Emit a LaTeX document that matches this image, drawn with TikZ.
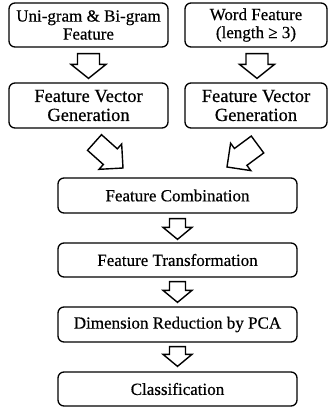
\documentclass[tikz,border=0pt]{standalone}
\usepackage{fontspec}
\setmainfont{Liberation Serif}[FakeBold=0.5]
\usetikzlibrary{calc}

% hollow block arrow from tail #1 to tip #2;
% #3 half shaft width, #4 half head width, #5 head length
\newcommand\fatarrow[5]{%
  \draw[blockarrow]
    ($#1!#3!90:#2$) --
    ($($#2!#5!#1$)!#3!90:#2$) --
    ($($#2!#5!#1$)!#4!90:#2$) --
    #2 --
    ($($#2!#5!#1$)!#4!-90:#2$) --
    ($($#2!#5!#1$)!#3!-90:#2$) --
    ($#1!#3!-90:#2$) -- cycle;}

\tikzset{
  box/.style={draw=black, line width=1.3pt, rounded corners=6pt,
    align=center, inner sep=0pt, font=\fontsize{17}{18}\selectfont},
  bigbox/.style={box, font=\fontsize{18.5}{19}\selectfont},
  blockarrow/.style={draw=black, line width=1.4pt, fill=white,
    line join=miter},
}

\begin{document}
\begin{tikzpicture}[x=1pt, y=-1pt]
\useasboundingbox (0,0) rectangle (328,408);

\node[box, minimum width=159pt, minimum height=44pt] (uni) at (88.5,25)
  {Uni-gram \& Bi-gram\\Feature};
\node[box, minimum width=142pt, minimum height=44pt] (word) at (256,25)
  {Word Feature\\(length ≥ 3)};
\node[bigbox, minimum width=159pt, minimum height=45pt] (fvl) at (88.5,105.5)
  {Feature Vector\\Generation};
\node[bigbox, minimum width=142pt, minimum height=45pt] (fvr) at (256,105.5)
  {Feature Vector\\Generation};
\node[box, minimum width=239pt, minimum height=35pt] (comb) at (177.5,195.5)
  {Feature Combination};
\node[box, minimum width=239pt, minimum height=34pt] (trans) at (177.5,260)
  {Feature Transformation};
\node[box, minimum width=239pt, minimum height=35pt] (pca) at (177.5,324.5)
  {Dimension Reduction by PCA};
\node[box, minimum width=239pt, minimum height=34pt] (cls) at (177.5,389)
  {Classification};

% upper vertical arrows
\fatarrow{($(uni.south)+(0,6)$)}{($(fvl.north)+(0,-4)$)}{11pt}{17.5pt}{14pt}
\fatarrow{($(word.south)+(1,6)$)}{($(fvr.north)+(1,-4)$)}{11pt}{17.5pt}{14pt}

% diagonal arrows into the combination step
\coordinate (dl0) at (94.5,142.5);
\coordinate (dl1) at (123,168);
\coordinate (dr0) at (257.5,144.5);
\coordinate (dr1) at (227,167);
\fatarrow{(dl0)}{(dl1)}{10.5pt}{17pt}{17pt}
\fatarrow{(dr0)}{(dr1)}{10.5pt}{17pt}{17pt}

% lower vertical arrows
\fatarrow{($(comb.south)+(0,5)$)}{($(trans.north)+(0,-3)$)}{8pt}{14.5pt}{12pt}
\fatarrow{($(trans.south)+(0,4)$)}{($(pca.north)+(0,-4)$)}{8pt}{14.5pt}{12pt}
\fatarrow{($(pca.south)+(0,4)$)}{($(cls.north)+(0,-5)$)}{8pt}{14.5pt}{12pt}
\end{tikzpicture}
\end{document}
